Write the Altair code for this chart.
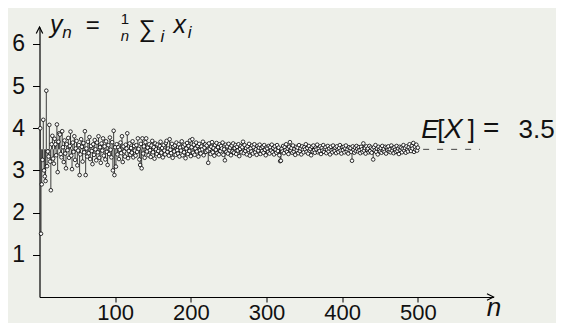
import altair as alt
import pandas as pd

# sample means y_n for n = 1..500
y_001_030 = [4.00, 1.50, 2.67, 3.25, 4.20, 3.00, 2.86, 2.75, 4.89, 3.10,
             3.45, 3.33, 4.08, 3.21, 2.53, 3.62, 3.82, 3.28, 3.16, 3.75,
             3.62, 3.36, 4.09, 2.96, 3.68, 3.88, 3.85, 3.39, 3.31, 3.93]
y_031_060 = [3.55, 3.20, 3.71, 3.40, 3.05, 3.62, 3.48, 3.77, 3.30, 3.58,
             3.92, 3.35, 3.03, 3.66, 3.44, 3.81, 3.25, 3.52, 3.70, 3.12,
             3.47, 3.60, 2.89, 3.38, 3.74, 3.56, 3.21, 3.65, 3.43, 3.93]
y_061_100 = [2.89, 3.52, 3.33, 3.68, 3.41, 3.79, 3.27, 3.58, 3.46, 3.15,
             3.62, 3.37, 3.72, 3.50, 3.24, 3.66, 3.43, 3.81, 3.30, 3.55,
             3.18, 3.64, 3.47, 3.76, 3.35, 3.57, 3.26, 3.69, 3.44, 3.13,
             3.60, 3.39, 3.78, 3.49, 3.31, 3.67, 3.00, 3.94, 2.89, 3.55]
y_101_200 = [3.09, 3.62, 3.38, 3.55, 3.27, 3.49, 3.66, 3.41, 3.81, 3.20,
             3.57, 3.45, 3.33, 3.61, 3.52, 3.88, 3.29, 3.46, 3.64, 3.37,
             3.53, 3.42, 3.69, 3.31, 3.58, 3.47, 3.35, 3.60, 3.44, 3.76,
             3.51, 3.26, 3.13, 3.63, 3.05, 3.76, 3.40, 3.57, 3.30, 3.67,
             3.76, 3.45, 3.54, 3.36, 3.62, 3.48, 3.32, 3.59, 3.70, 3.43,
             3.55, 3.28, 3.64, 3.50, 3.39, 3.61, 3.46, 3.34, 3.58, 3.68,
             3.42, 3.53, 3.31, 3.60, 3.47, 3.38, 3.65, 3.70, 3.44, 3.52,
             3.35, 3.74, 3.49, 3.41, 3.63, 3.30, 3.56, 3.45, 3.59, 3.37,
             3.66, 3.48, 3.40, 3.62, 3.33, 3.54, 3.47, 3.69, 3.36, 3.57,
             3.43, 3.61, 3.29, 3.52, 3.65, 3.39, 3.58, 3.46, 3.71, 3.34]
y_201_300 = [3.55, 3.74, 3.42, 3.61, 3.37, 3.52, 3.66, 3.45, 3.58, 3.33,
             3.63, 3.48, 3.40, 3.57, 3.50, 3.68, 3.36, 3.54, 3.62, 3.44,
             3.59, 3.47, 3.18, 3.64, 3.51, 3.39, 3.56, 3.67, 3.43, 3.53,
             3.35, 3.60, 3.49, 3.65, 3.41, 3.55, 3.38, 3.62, 3.46, 3.58,
             3.52, 3.66, 3.37, 3.50, 3.24, 3.61, 3.44, 3.57, 3.40, 3.63,
             3.48, 3.54, 3.36, 3.59, 3.45, 3.64, 3.42, 3.53, 3.60, 3.39,
             3.56, 3.47, 3.62, 3.34, 3.51, 3.58, 3.43, 3.55, 3.68, 3.41,
             3.60, 3.46, 3.53, 3.38, 3.57, 3.49, 3.63, 3.35, 3.52, 3.45,
             3.59, 3.40, 3.55, 3.62, 3.43, 3.50, 3.37, 3.58, 3.47, 3.54,
             3.61, 3.39, 3.52, 3.46, 3.56, 3.42, 3.60, 3.49, 3.36, 3.55]
y_301_400 = [3.52, 3.44, 3.58, 3.40, 3.55, 3.47, 3.61, 3.43, 3.53, 3.38,
             3.57, 3.49, 3.42, 3.60, 3.46, 3.54, 3.36, 3.22, 3.23, 3.51,
             3.45, 3.58, 3.41, 3.55, 3.48, 3.62, 3.44, 3.52, 3.39, 3.56,
             3.67, 3.47, 3.53, 3.42, 3.59, 3.45, 3.51, 3.37, 3.56, 3.48,
             3.54, 3.41, 3.60, 3.46, 3.52, 3.38, 3.57, 3.49, 3.43, 3.55,
             3.50, 3.62, 3.44, 3.53, 3.40, 3.58, 3.47, 3.51, 3.36, 3.56,
             3.45, 3.59, 3.48, 3.42, 3.54, 3.50, 3.61, 3.43, 3.52, 3.46,
             3.57, 3.39, 3.53, 3.47, 3.60, 3.44, 3.51, 3.55, 3.41, 3.49,
             3.58, 3.45, 3.52, 3.38, 3.56, 3.48, 3.43, 3.59, 3.50, 3.46,
             3.54, 3.41, 3.57, 3.49, 3.44, 3.53, 3.60, 3.47, 3.40, 3.55]
y_401_500 = [3.48, 3.56, 3.43, 3.52, 3.59, 3.45, 3.50, 3.40, 3.55, 3.47,
             3.53, 3.44, 3.23, 3.57, 3.49, 3.42, 3.54, 3.46, 3.58, 3.51,
             3.45, 3.55, 3.48, 3.41, 3.56, 3.50, 3.44, 3.64, 3.47, 3.53,
             3.40, 3.57, 3.49, 3.52, 3.43, 3.58, 3.46, 3.54, 3.42, 3.51,
             3.26, 3.55, 3.47, 3.60, 3.44, 3.52, 3.38, 3.56, 3.49, 3.45,
             3.53, 3.42, 3.58, 3.47, 3.51, 3.44, 3.56, 3.40, 3.54, 3.48,
             3.57, 3.45, 3.50, 3.43, 3.59, 3.47, 3.53, 3.41, 3.55, 3.49,
             3.44, 3.58, 3.46, 3.52, 3.39, 3.56, 3.48, 3.54, 3.43, 3.51,
             3.60, 3.47, 3.53, 3.42, 3.57, 3.49, 3.45, 3.55, 3.62, 3.50,
             3.46, 3.58, 3.52, 3.65, 3.44, 3.56, 3.49, 3.61, 3.47, 3.54]

expected = 3.5
x_ticks = [100, 200, 300, 400, 500]
y_ticks = [1, 2, 3, 4, 5, 6]

values = y_001_030 + y_031_060 + y_061_100 + y_101_200 + y_201_300 + y_301_400 + y_401_500
df = pd.DataFrame({"n": list(range(1, len(values) + 1)), "y": values, "mu": expected})
one = pd.DataFrame({"k": [0]})

FONT = "Liberation Sans"
xs = alt.Scale(domain=[0, 600], nice=False, zero=False)
ys = alt.Scale(domain=[0, 6.4], nice=False, zero=False)

x_axis = alt.Axis(values=x_ticks, title=None, grid=False, domainColor="black", domainWidth=1.2,
                  tickColor="black", tickWidth=1, tickSize=5, labelFont=FONT, labelFontSize=22,
                  labelColor="#111", labelBaseline="alphabetic", labelPadding=17, format="d")
y_axis = alt.Axis(values=y_ticks, title=None, grid=False, domainColor="black", domainWidth=1.2,
                  tickColor="black", tickWidth=1, tickSize=7, labelFont=FONT, labelFontSize=23,
                  labelColor="#111", labelPadding=8, format="d")

base = alt.Chart(df)
stems = base.mark_rule(color="#2a2a2a", strokeWidth=0.9).encode(
    x=alt.X("n:Q", scale=xs, axis=x_axis),
    y=alt.Y("mu:Q", scale=ys, axis=y_axis),
    y2="y:Q",
)
points = base.mark_circle(fill="white", stroke="black", strokeWidth=0.8, size=13, opacity=1).encode(
    x="n:Q", y="y:Q"
)

dash = alt.Chart(one).mark_rule(color="#444", strokeWidth=1, strokeDash=[6, 8]).encode(
    x=alt.datum(507), x2=alt.datum(582), y=alt.datum(expected)
)

arrow_x = alt.Chart(one).mark_point(shape="M -1 -0.5 L 0 0 L -1 0.5", filled=False, color="black",
                                     strokeWidth=1.2, size=170, opacity=1).encode(
    x=alt.datum(600), y=alt.datum(0))
arrow_y = alt.Chart(one).mark_point(shape="M -0.5 1 L 0 0 L 0.5 1", filled=False, color="black",
                                     strokeWidth=1.2, size=170, opacity=1).encode(
    x=alt.datum(0), y=alt.datum(6.4))


def txt(s, xv, yv, size, italic=False, align="left"):
    kw = dict(text=s, align=align, baseline="alphabetic", font=FONT, fontSize=size, color="#111")
    if italic:
        kw["fontStyle"] = "italic"
    return alt.Chart(one).mark_text(**kw).encode(x=alt.datum(xv), y=alt.datum(yv))


labels = [
    # y_n = 1/n sum_i x_i
    txt("y", 14, 6.26, 25, True),
    txt("n", 30, 6.13, 17, True),
    txt("=", 61, 6.26, 24),
    txt("1", 113, 6.46, 15, False, "center"),
    txt("n", 113, 6.08, 15, True, "center"),
    txt("\u2211", 131, 6.17, 24),
    txt("i", 160, 6.05, 17, True),
    txt("x", 177, 6.26, 25, True),
    txt("i", 196, 6.13, 17, True),
    # E[X] = 3.5
    txt("E", 504.5, 3.77, 26, True),
    txt("[", 525.5, 3.77, 26),
    txt("X", 534.5, 3.77, 28, True),
    txt("]", 566, 3.77, 26),
    txt("=", 586, 3.79, 28),
    txt("3.5", 633, 3.77, 26),
    # axis name n
    txt("n", 591, -0.45, 26, True),
]

chart = alt.layer(stems, points, dash, arrow_x, arrow_y, *labels).properties(
    width=454, height=270,
    padding={"left": 31.5, "top": 19, "right": 62.5, "bottom": 26},
    autosize=alt.AutoSizeParams(type="none"),
    background="#EEF0EA",
).configure_view(stroke=None)

chart.save("out.html", embed_options={"renderer": "svg", "actions": False})
